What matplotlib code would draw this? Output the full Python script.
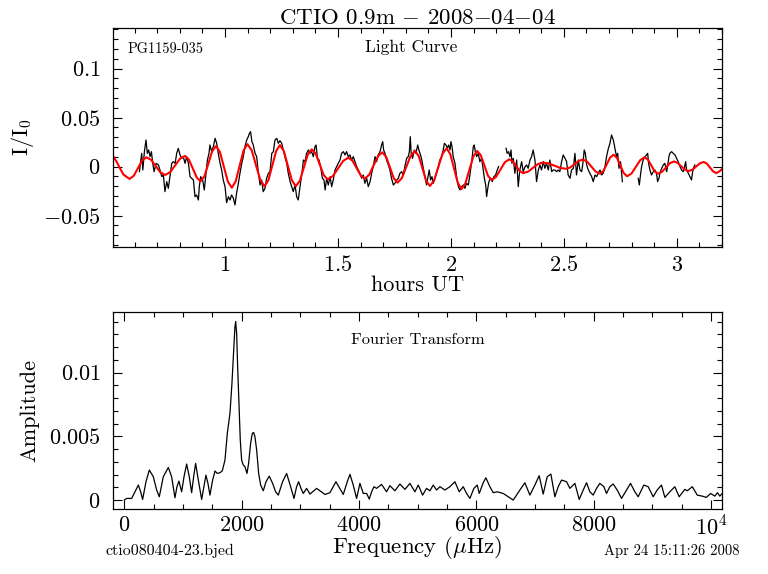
import numpy as np
import matplotlib
matplotlib.use("Agg")
import matplotlib.pyplot as plt
from matplotlib.ticker import MultipleLocator, FixedLocator, FuncFormatter

plt.rcParams['font.family'] = ['cmr10', 'DejaVu Serif']
plt.rcParams['mathtext.fontset'] = 'cm'
plt.rcParams['axes.unicode_minus'] = False
plt.rcParams['axes.formatter.use_mathtext'] = True

nan = np.nan

# ---------------- Light curve data (hours UT, I/I0) ----------------
hours_data = [
    0.621, 0.631, 0.636, 0.643, 0.650, 0.656, 0.662, 0.668, 0.674, 0.680, 0.686, 0.695,
    0.705, 0.712, 0.720, 0.727, 0.734, 0.742, 0.749, 0.756, 0.764, 0.771, 0.779, 0.786,
    0.793, 0.801, 0.808, 0.815, 0.823, 0.830, 0.838, 0.845, 0.852, 0.860, 0.867, 0.874,
    0.882, 0.886, 0.892, 0.901, 0.908, 0.916, 0.922, 0.929, 0.933, 0.941, 0.948, 0.956,
    0.963, 0.970, 0.978, 0.985, 0.992, 1.000, 1.007, 1.015, 1.022, 1.029, 1.037, 1.044,
    1.051, 1.059, 1.066, 1.074, 1.081, 1.088, 1.096, 1.103, 1.108, 1.113, 1.119, 1.125,
    1.133, 1.140, 1.147, 1.155, 1.162, 1.169, 1.177, 1.184, 1.192,
    1.199, 1.207, 1.214, 1.221, 1.229, 1.236, 1.243, 1.251, 1.258, 1.265, 1.273, 1.280,
    1.288, 1.295, 1.302, 1.310, 1.317, 1.324, 1.329, 1.336, 1.342, 1.347, 1.354, 1.361,
    1.369, 1.376, 1.383, 1.391, 1.398, 1.403, 1.409, 1.416, 1.423, 1.431, 1.438, 1.443,
    1.450, 1.457, 1.465, 1.472, 1.479, 1.487, 1.494, 1.501, 1.509, 1.516, 1.524, 1.531,
    1.538, 1.546, 1.553, 1.560, 1.568, 1.575, 1.583, 1.590, 1.597, 1.605, 1.612, 1.619,
    1.627, 1.634, 1.642, 1.649, 1.656, 1.664, 1.671, 1.678, 1.686, 1.693, 1.698, 1.702,
    1.708, 1.715, 1.723, 1.730, 1.737, 1.745, 1.752, 1.760, 1.767, 1.774, 1.782, 1.789,
    1.796, 1.804, 1.811, 1.816, 1.820, 1.824, 1.830, 1.838, 1.845, 1.853, 1.858, 1.864,
    1.870, 1.878, 1.885, 1.892,
    1.900, 1.904, 1.910, 1.916, 1.922, 1.929, 1.937, 1.944, 1.951, 1.959, 1.966, 1.971,
    1.978, 1.984, 1.990, 1.996, 2.000, 2.005, 2.010, 2.018, 2.025, 2.033, 2.040, 2.047,
    2.055, 2.062, 2.069, 2.077, 2.084, 2.092, 2.099, 2.103, 2.108, 2.114, 2.121, 2.128,
    2.136, 2.143, 2.148, 2.154, 2.158, 2.162, 2.168, 2.176, 2.183, 2.190, 2.198, 2.205,
    2.211, 2.228,
    2.244, 2.249, 2.255, 2.261, 2.266, 2.270, 2.276, 2.283, 2.291, 2.298, 2.305, 2.313,
    2.320, 2.328, 2.335, 2.342, 2.350, 2.357, 2.364, 2.372, 2.379, 2.387, 2.394, 2.401,
    2.409, 2.416, 2.423, 2.431, 2.438, 2.446, 2.453, 2.460, 2.468, 2.475, 2.482, 2.490,
    2.497, 2.505, 2.512, 2.519, 2.527,
    2.534, 2.542, 2.549, 2.556, 2.564, 2.571, 2.579, 2.586, 2.590, 2.595, 2.601, 2.608,
    2.615, 2.623, 2.630, 2.638, 2.645, 2.652, 2.660, 2.667, 2.674, 2.682, 2.689, 2.697,
    2.704, 2.711, 2.719, 2.726, 2.733, 2.738, 2.744, 2.751, 2.759, 2.795,
    2.829, 2.834, 2.840, 2.844, 2.851, 2.859, 2.866, 2.871, 2.875, 2.881, 2.888, 2.896,
    2.903, 2.910, 2.915, 2.921, 2.925, 2.933, 2.940, 2.947, 2.955, 2.959, 2.965, 2.969,
    2.977, 2.984, 2.992, 2.999, 3.006, 3.014, 3.021, 3.028, 3.033, 3.039, 3.043, 3.051,
    3.058, 3.065, 3.070, 3.076, 3.080,
]
flux_data = [
    -0.0051, 0.0136, -0.0034, 0.0153, 0.0272, 0.0136, 0.0170, 0.0102, 0.0153, 0.0034, -0.0051, 0.0034,
    0.0017, -0.0034, -0.0102, -0.0085, -0.0255, -0.0153, -0.0221, -0.0102, 0.0034, 0.0051, 0.0034, 0.0136,
    0.0187, 0.0119, 0.0085, 0.0102, 0.0034, 0.0102, 0.0034, -0.0102, -0.0119, -0.0136, -0.0306, -0.0289,
    -0.0340, -0.0204, -0.0102, -0.0136, -0.0238, -0.0068, 0.0068, 0.0136, 0.0221, 0.0153, 0.0204, 0.0289,
    0.0238, 0.0136, 0.0034, -0.0034, -0.0136, -0.0204, -0.0367, -0.0306, -0.0340, -0.0289, -0.0323, -0.0391,
    -0.0272, -0.0170, -0.0068, 0.0034, 0.0102, 0.0204, 0.0272, 0.0306, 0.0340, 0.0357, 0.0255, 0.0221,
    0.0136, 0.0102, -0.0051, -0.0187, -0.0136, -0.0255, -0.0221, -0.0119, -0.0068,
    -0.0051, 0.0136, 0.0153, 0.0272, 0.0289, 0.0238, 0.0265, 0.0238, 0.0170, 0.0102, 0.0034, -0.0068,
    -0.0153, -0.0204, -0.0255, -0.0187, -0.0306, -0.0340, -0.0255, -0.0136, -0.0034, 0.0068, 0.0051, 0.0136,
    0.0170, 0.0136, 0.0153, 0.0102, 0.0204, 0.0221, 0.0085, 0.0068, 0.0000, -0.0119, -0.0136, -0.0238,
    -0.0119, -0.0187, -0.0102, -0.0204, -0.0136, -0.0034, 0.0000, 0.0034, 0.0068, 0.0136, 0.0153, 0.0119,
    0.0153, 0.0102, 0.0119, 0.0068, 0.0102, 0.0051, 0.0000, -0.0034, -0.0068, -0.0119, -0.0085, -0.0170,
    -0.0119, -0.0204, -0.0153, -0.0068, 0.0000, 0.0102, 0.0051, 0.0119, 0.0153, 0.0221, 0.0255, 0.0170,
    0.0136, 0.0068, 0.0017, -0.0034, -0.0119, -0.0187, -0.0170, -0.0136, -0.0119, -0.0068, -0.0051, -0.0085,
    0.0000, 0.0085, 0.0102, 0.0153, 0.0306, 0.0136, 0.0085, 0.0170, 0.0136, 0.0221, 0.0170, 0.0130,
    0.0080, -0.0020, -0.0100, -0.0187,
    -0.0085, -0.0034, -0.0136, -0.0102, -0.0170, -0.0119, -0.0051, 0.0000, 0.0068, 0.0102, 0.0170, 0.0238,
    0.0221, 0.0187, 0.0221, 0.0170, 0.0255, 0.0204, 0.0102, 0.0034, -0.0102, -0.0204, -0.0238, -0.0204,
    -0.0187, -0.0221, -0.0170, -0.0187, -0.0085, 0.0051, 0.0204, 0.0221, 0.0153, 0.0102, 0.0136, 0.0051,
    0.0085, -0.0034, -0.0119, -0.0187, -0.0306, -0.0238, -0.0153, -0.0119, -0.0153, -0.0102, -0.0085, -0.0034,
    0.0000, nan,
    0.0187, 0.0136, 0.0153, 0.0102, 0.0170, 0.0034, 0.0085, -0.0068, 0.0068, -0.0204, -0.0034, 0.0051,
    -0.0051, 0.0000, 0.0017, -0.0017, 0.0068, 0.0102, 0.0170, 0.0068, -0.0153, -0.0034, 0.0017, -0.0034,
    0.0051, -0.0017, 0.0034, -0.0034, 0.0068, -0.0051, -0.0034, -0.0034, -0.0051, -0.0034, -0.0051, 0.0051,
    0.0119, 0.0085, 0.0051, -0.0085, -0.0119,
    -0.0034, -0.0017, 0.0136, -0.0085, 0.0068, -0.0034, -0.0051, 0.0068, 0.0170, 0.0136, 0.0017, -0.0034,
    -0.0068, -0.0102, -0.0153, -0.0085, -0.0102, -0.0068, -0.0034, -0.0085, -0.0068, 0.0000, 0.0102, 0.0187,
    0.0238, 0.0323, 0.0272, 0.0187, 0.0102, 0.0136, -0.0017, 0.0051, -0.0153, nan,
    -0.0119, -0.0187, -0.0068, 0.0000, 0.0068, 0.0102, 0.0119, 0.0136, 0.0034, -0.0034, -0.0085, -0.0051,
    -0.0034, -0.0068, -0.0153, -0.0119, -0.0068, -0.0017, 0.0017, 0.0034, -0.0051, 0.0000, 0.0102, 0.0136,
    0.0153, 0.0136, 0.0119, 0.0085, 0.0051, 0.0000, -0.0034, -0.0051, -0.0017, 0.0051, -0.0034, -0.0068,
    -0.0102, -0.0136, -0.0051, 0.0000, 0.0017,
]

# ---------------- Multi-sine fit (red) ----------------
hours_fit = [
    0.505, 0.52, 0.535, 0.55, 0.577, 0.596, 0.6145, 0.633, 0.652, 0.673, 0.6935, 0.714, 0.735,
    0.757, 0.779, 0.801, 0.823, 0.840, 0.8575, 0.875, 0.892, 0.909, 0.926, 0.943, 0.960,
    0.9775, 0.995, 1.0125, 1.030, 1.047, 1.0645, 1.082, 1.099, 1.118, 1.137, 1.156, 1.175,
    1.192, 1.209, 1.226, 1.243, 1.2605, 1.278, 1.2955, 1.313, 1.331, 1.3485, 1.366, 1.384,
    1.4015, 1.419, 1.4365, 1.454, 1.477, 1.500, 1.523, 1.546, 1.564, 1.5825, 1.601, 1.619,
    1.638, 1.6575, 1.677, 1.696, 1.713, 1.730, 1.747, 1.764, 1.783, 1.8025, 1.822, 1.841,
    1.8575, 1.874, 1.8905, 1.907, 1.9255, 1.944, 1.9625, 1.981, 1.9975, 2.014, 2.0305, 2.047,
    2.064, 2.0815, 2.099, 2.116, 2.132, 2.148, 2.164, 2.180, 2.1995, 2.219, 2.2385, 2.258,
    2.2735, 2.289, 2.3045, 2.320, 2.342, 2.3635, 2.385, 2.407, 2.433, 2.4585, 2.484, 2.510,
    2.5285, 2.547, 2.5655, 2.584, 2.603, 2.622, 2.641, 2.660, 2.675, 2.690, 2.705, 2.720,
    2.735, 2.750, 2.765, 2.780, 2.7995, 2.819, 2.8385, 2.858, 2.8725, 2.887, 2.9015, 2.916,
    2.934, 2.9515, 2.969, 2.987, 3.003, 3.0195, 3.036, 3.052, 3.069, 3.0855, 3.102, 3.119,
    3.133, 3.147, 3.161, 3.175, 3.19, 3.205,
]
flux_fit = [
    0.0105, 0.0050, -0.0017, -0.0080, -0.0125, -0.0093, -0.0015, 0.0063, 0.0095, 0.0069, 0.0005, -0.0059, -0.0085,
    -0.0056, 0.0013, 0.0082, 0.0110, 0.0072, -0.0020, -0.0112, -0.0150, -0.0097, 0.0030, 0.0157, 0.0210,
    0.0148, -0.0003, -0.0153, -0.0215, -0.0150, 0.0008, 0.0165, 0.0230, 0.0167, 0.0015, -0.0137, -0.0200,
    -0.0138, 0.0010, 0.0158, 0.0220, 0.0158, 0.0010, -0.0138, -0.0200, -0.0145, -0.0012, 0.0122, 0.0177,
    0.0132, 0.0024, -0.0085, -0.0130, -0.0097, -0.0019, 0.0059, 0.0092, 0.0061, -0.0015, -0.0091, -0.0122,
    -0.0083, 0.0012, 0.0107, 0.0146, 0.0101, -0.0009, -0.0118, -0.0163, -0.0116, -0.0002, 0.0113, 0.0160,
    0.0108, -0.0019, -0.0145, -0.0197, -0.0141, -0.0005, 0.0131, 0.0187, 0.0126, -0.0021, -0.0167, -0.0228,
    -0.0171, -0.0034, 0.0103, 0.0160, 0.0117, 0.0012, -0.0093, -0.0136, -0.0105, -0.0031, 0.0044, 0.0075,
    0.0054, 0.0005, -0.0045, -0.0066, -0.0050, -0.0012, 0.0026, 0.0042, 0.0033, 0.0010, -0.0013, -0.0022,
    -0.0008, 0.0025, 0.0058, 0.0072, 0.0051, 0.0000, -0.0051, -0.0072, -0.0044, 0.0025, 0.0094, 0.0122,
    0.0090, 0.0012, -0.0066, -0.0098, -0.0070, -0.0001, 0.0068, 0.0096, 0.0071, 0.0012, -0.0047, -0.0072,
    -0.0054, -0.0010, 0.0035, 0.0053, 0.0039, 0.0004, -0.0031, -0.0045, -0.0031, 0.0002, 0.0034, 0.0048,
    0.0031, -0.0009, -0.0049, -0.0066, -0.0045, -0.0015,
]

# ---------------- Fourier transform (uHz, amplitude) ----------------
freq = [
    0, 40, 125, 182, 239, 278, 312, 369, 426, 494, 551, 596, 664, 750, 806, 863, 897, 931,
    977, 1017, 1062, 1107, 1147, 1181, 1215, 1261, 1318, 1357, 1391, 1425, 1459, 1505, 1545,
    1584, 1630, 1670, 1715, 1755, 1800, 1834, 1863, 1885, 1897, 1914, 1931, 1954, 1976, 1999,
    2027, 2056, 2090, 2118, 2152, 2181, 2203, 2226, 2255, 2289, 2323, 2368, 2414, 2470, 2527,
    2578, 2624, 2697, 2766, 2834, 2891, 2936, 2970, 3010, 3050, 3106, 3163, 3277, 3419, 3504,
    3606, 3731, 3799, 3845, 3901, 3958, 4015, 4072, 4129, 4174, 4214, 4254, 4299, 4384, 4469,
    4526, 4611, 4697, 4782, 4867, 4952, 5009, 5083, 5151,
    5207, 5264, 5321, 5378, 5463, 5548, 5633, 5707, 5775, 5832, 5889, 5957, 6014, 6048, 6116,
    6161, 6230, 6286, 6355, 6457, 6542, 6627, 6741, 6826, 6911, 6996, 7070, 7138, 7206, 7269,
    7337, 7394, 7451, 7536, 7593, 7678, 7752, 7820, 7877, 7933, 7990, 8047, 8104, 8172, 8217,
    8274, 8331, 8399, 8473, 8558, 8626, 8700, 8757, 8853, 8927, 9012, 9080, 9154, 9211, 9296,
    9381, 9455, 9552, 9594, 9679, 9764, 9849, 9918, 9991, 10063, 10108, 10148, 10177,
]
amp_milli = [
    0.0, 0.13, 0.13, 0.65, 1.18, 0.65, 0.05, 1.44, 2.36, 1.83, 0.79, 0.26, 1.83, 2.56, 1.83, 0.18, 1.05, 1.49,
    0.65, 1.83, 2.83, 1.83, 0.58, 1.83, 2.88, 1.57, 0.05, 1.05, 1.96, 1.31, 0.39, 1.57, 2.28,
    2.09, 2.15, 2.30, 3.14, 5.23, 6.80, 9.16, 11.78, 13.61, 14.00, 13.09, 10.47, 7.59, 4.71, 3.14,
    2.75, 2.62, 2.09, 2.88, 4.45, 5.23, 5.31, 4.97, 3.93, 2.09, 1.18, 0.73, 1.44, 1.88, 1.31,
    0.65, 0.39, 1.44, 2.09, 1.05, 0.13, 1.05, 1.44, 0.92, 0.52, 0.92, 0.47, 0.92, 0.44, 0.58,
    1.44, 0.44, 1.44, 2.02, 1.18, 0.13, 1.31, 0.52, 0.52, 0.08, 0.65, 1.05, 0.92, 1.23, 0.65,
    1.13, 0.73, 1.26, 0.84, 1.31, 0.65, 1.18, 0.39, 0.92,
    0.73, 1.18, 0.79, 1.05, 0.79, 1.05, 1.44, 0.65, 1.05, 0.52, 0.13, 0.92, 1.18, 0.52, 1.36,
    1.75, 1.05, 0.58, 0.65, 0.52, 0.26, 0.00, 0.79, 1.36, 0.39, 1.18, 1.91, 0.47, 1.83, 2.04,
    0.26, 1.05, 1.57, 1.44, 0.92, 1.31, 0.05, 0.79, 1.36, 0.65, 0.39, 0.92, 1.31, 1.05, 0.52,
    1.05, 1.26, 0.79, 0.13, 0.79, 1.31, 0.65, 0.26, 1.18, 1.05, 0.26, 0.79, 1.18, 0.21, 0.65,
    1.05, 0.26, 0.84, 0.73, 1.05, 0.39, 0.31, 0.21, 0.52, 0.31, 0.58, 0.31, 0.47,
]
amp = np.array(amp_milli) * 1e-3

top_xticks = [1, 1.5, 2, 2.5, 3]
top_yticks = [-0.05, 0, 0.05, 0.1]
bot_xticks = [0, 2000, 4000, 6000, 8000, 10000]
bot_xlabels = ['$0$', '$2000$', '$4000$', '$6000$', '$8000$', '$10^4$']
bot_yticks = [0, 0.005, 0.01]

W, H = 768, 574
fig = plt.figure(figsize=(W / 100, H / 100), dpi=100)

def style(ax):
    ax.tick_params(which='both', direction='in', top=True, right=True, width=0.8, colors='black')
    ax.tick_params(which='major', length=6.5, labelsize=16)
    ax.tick_params(which='minor', length=3.6)
    for s in ax.spines.values():
        s.set_linewidth(0.9)

def gfmt(v, pos):
    s = '%g' % v
    return '$' + s + '$'

# ---- top panel ----
ax1 = fig.add_axes([113 / W, 1 - 247 / H, 609 / W, 219 / H])
ax1.plot(hours_data, flux_data, color='black', lw=0.9)
ax1.plot(hours_fit, flux_fit, color='#ff0000', lw=1.5)
ax1.set_xlim(0.504, 3.2)
ax1.set_ylim(-0.082, 0.1415)
ax1.xaxis.set_major_locator(FixedLocator(top_xticks))
ax1.xaxis.set_minor_locator(MultipleLocator(0.1))
ax1.yaxis.set_major_locator(FixedLocator(top_yticks))
ax1.yaxis.set_minor_locator(MultipleLocator(0.01))
ax1.xaxis.set_major_formatter(FuncFormatter(gfmt))
ax1.yaxis.set_major_formatter(FuncFormatter(gfmt))
style(ax1)
ax1.tick_params(axis='y', pad=9)
ax1.tick_params(axis='x', pad=6)
ax1.set_xlabel('hours UT', fontsize=16, labelpad=0)
ax1.set_ylabel(r'I/I$_0$', fontsize=16, labelpad=5)
ax1.set_title(r'CTIO 0.9m $-$ 2008$-$04$-$04', fontsize=16.5, pad=3)
ax1.text(0.023, 0.905, 'PG1159-035', transform=ax1.transAxes, fontsize=10.3, ha='left', va='center')
ax1.text(0.489, 0.91, 'Light Curve', transform=ax1.transAxes, fontsize=12.5, ha='center', va='center')

# ---- bottom panel ----
ax2 = fig.add_axes([113 / W, 1 - 509 / H, 609 / W, 197 / H])
ax2.plot(freq, amp, color='black', lw=0.9)
ax2.set_xlim(-193, 10185)
ax2.set_ylim(-0.0007, 0.01476)
ax2.xaxis.set_major_locator(FixedLocator(bot_xticks))
ax2.xaxis.set_minor_locator(MultipleLocator(500))
ax2.yaxis.set_major_locator(FixedLocator(bot_yticks))
ax2.yaxis.set_minor_locator(MultipleLocator(0.001))
ax2.set_xticklabels(bot_xlabels)
ax2.yaxis.set_major_formatter(FuncFormatter(gfmt))
style(ax2)
ax2.tick_params(axis='y', pad=9)
ax2.tick_params(axis='x', pad=5)
ax2.set_xlabel(r'Frequency ($\mu$Hz)', fontsize=16.5, labelpad=-4)
ax2.set_ylabel('Amplitude', fontsize=16, labelpad=7)
ax2.text(0.5, 0.855, 'Fourier Transform', transform=ax2.transAxes, fontsize=11.8, ha='center', va='center')

fig.text(105 / W, 1 - 551 / H, 'ctio080404-23.bjed', fontsize=11.5, ha='left', va='center')
fig.text(740 / W, 1 - 551 / H, 'Apr 24 15:11:26 2008', fontsize=10.5, ha='right', va='center')

fig.savefig('out.png', dpi=100)
